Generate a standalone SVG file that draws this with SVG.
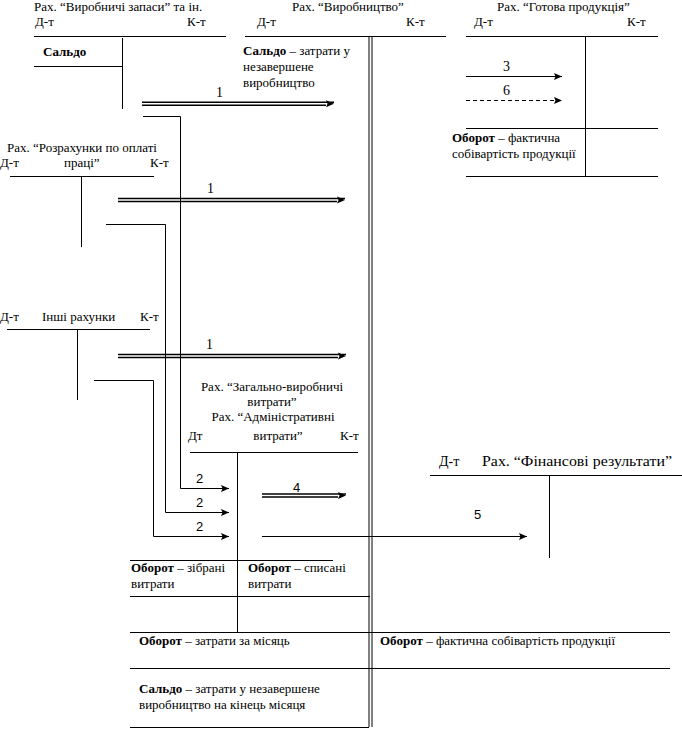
<svg xmlns="http://www.w3.org/2000/svg" width="682" height="729" viewBox="0 0 682 729">
<style>
text{font-family:"Liberation Serif","Times New Roman",serif;font-size:13px;fill:#000}
.b{font-weight:bold}
.n{font-family:"Liberation Serif",serif;font-size:14px}
.s{font-family:"Liberation Sans",Arial,sans-serif;font-size:13px}
.f{font-size:14px}
line,polyline{stroke:#000;stroke-width:1;fill:none}
.dbl{stroke-width:1.4}
.dash{stroke-dasharray:4,3}
</style>
<defs>
<marker id="ah" markerUnits="userSpaceOnUse" markerWidth="10" markerHeight="10" refX="8" refY="0" orient="auto" overflow="visible">
<path d="M0,-3.5 L8,0 L0,3.5 L1.5,0 z" fill="#000"/>
</marker>
<marker id="ah2" markerUnits="userSpaceOnUse" markerWidth="10" markerHeight="10" refX="8" refY="0" orient="auto" overflow="visible">
<path d="M0,-2 L8,1.5 L0,5 L1.5,1.5 z" fill="#000"/>
</marker>
</defs>
<rect width="682" height="729" fill="#fff"/>

<g id="acc-vyrobnychi-zapasy">
<text x="34" y="11">Рах. “Виробничі запаси” та ін.</text>
<text x="35" y="26">Д-т</text>
<text x="187" y="26">К-т</text>
<line x1="34" y1="36.5" x2="226" y2="36.5"/>
<line x1="122.5" y1="38" x2="122.5" y2="109"/>
<line x1="34" y1="66.5" x2="122" y2="66.5"/>
<text class="b" x="43" y="56">Сальдо</text>
</g>

<g id="acc-vyrobnytstvo">
<text x="292" y="11">Рах. “Виробництво”</text>
<text x="257" y="26">Д-т</text>
<text x="406" y="26">К-т</text>
<line x1="245" y1="36.5" x2="446" y2="36.5"/>
<line x1="369" y1="36" x2="369" y2="727"/>
<line x1="372" y1="36" x2="372" y2="727"/>
<text x="243" y="55"><tspan class="b">Сальдо</tspan> – затрати у</text>
<text x="243" y="71">незавершене</text>
<text x="243" y="87">виробництво</text>
<line x1="130" y1="632.5" x2="670" y2="632.5"/>
<line x1="130" y1="668.5" x2="670" y2="668.5"/>
<line x1="130" y1="727.5" x2="369" y2="727.5"/>
<text x="139" y="645"><tspan class="b">Оборот</tspan> – затрати за місяць</text>
<text x="380" y="645"><tspan class="b">Оборот</tspan> – фактична собівартість продукції</text>
<text x="139" y="693"><tspan class="b">Сальдо</tspan> – затрати у незавершене</text>
<text x="139" y="709">виробництво на кінець місяця</text>
</g>

<g id="acc-gotova-produktsiya">
<text x="497" y="11">Рах. “Готова продукція”</text>
<text x="474" y="26">Д-т</text>
<text x="627" y="26">К-т</text>
<line x1="466" y1="36.5" x2="658" y2="36.5"/>
<line x1="585.5" y1="36" x2="585.5" y2="176"/>
<line x1="466" y1="128.5" x2="658" y2="128.5"/>
<line x1="466" y1="176.5" x2="658" y2="176.5"/>
<text x="452" y="142"><tspan class="b">Оборот</tspan> – фактична</text>
<text x="452" y="158">собівартість продукції</text>
</g>

<g id="acc-rozrakhunky">
<text x="7" y="152">Рах. “Розрахунки по оплаті</text>
<text x="0" y="167">Д-т</text>
<text x="64" y="167">праці”</text>
<text x="150" y="167">К-т</text>
<line x1="10" y1="176.5" x2="154" y2="176.5"/>
<line x1="81.5" y1="177" x2="81.5" y2="247"/>
</g>

<g id="acc-inshi">
<text x="0" y="321">Д-т</text>
<text x="42" y="321">Інші рахунки</text>
<text x="140" y="321">К-т</text>
<line x1="7" y1="329.5" x2="150" y2="329.5"/>
<line x1="77.5" y1="330" x2="77.5" y2="400"/>
</g>

<g id="acc-zagalno-vyrobnychi">
<text x="272" y="391" text-anchor="middle">Рах. “Загально-виробничі</text>
<text x="272" y="406" text-anchor="middle">витрати”</text>
<text x="273" y="421" text-anchor="middle">Рах. “Адміністративні</text>
<text x="188" y="440">Дт</text>
<text x="278" y="440" text-anchor="middle">витрати”</text>
<text x="340" y="440">К-т</text>
<line x1="190" y1="452.5" x2="358" y2="452.5"/>
<line x1="237.5" y1="453" x2="237.5" y2="632"/>
<line x1="130" y1="560.5" x2="333" y2="560.5"/>
<line x1="130" y1="596.5" x2="370" y2="596.5"/>
<text x="131" y="572"><tspan class="b">Оборот</tspan> – зібрані</text>
<text x="131" y="588">витрати</text>
<text x="248" y="572"><tspan class="b">Оборот</tspan> – списані</text>
<text x="248" y="588">витрати</text>
</g>

<g id="acc-finansovi-rezultaty">
<text class="f" x="439" y="466">Д-т</text>
<text class="f" x="482" y="466" textLength="190" lengthAdjust="spacingAndGlyphs">Рах. “Фінансові результати”</text>
<line x1="430" y1="475.5" x2="682" y2="475.5"/>
<line x1="549.5" y1="476" x2="549.5" y2="558"/>
</g>

<g id="connectors">
<line class="dbl" x1="142" y1="102.3" x2="334" y2="102.3" marker-end="url(#ah2)"/>
<line class="dbl" x1="142" y1="105.3" x2="326" y2="105.3"/>
<text class="n" x="216" y="97">1</text>

<line class="dbl" x1="118" y1="198.5" x2="345" y2="198.5" marker-end="url(#ah2)"/>
<line class="dbl" x1="118" y1="201.5" x2="337" y2="201.5"/>
<text class="n" x="207" y="193">1</text>

<line class="dbl" x1="118" y1="354.5" x2="346" y2="354.5" marker-end="url(#ah2)"/>
<line class="dbl" x1="118" y1="357.5" x2="338" y2="357.5"/>
<text class="n" x="206" y="349">1</text>

<polyline points="143,116.5 180.5,116.5 180.5,488.5 229,488.5" marker-end="url(#ah)"/>
<polyline points="106,224.5 165.5,224.5 165.5,512.5 229,512.5" marker-end="url(#ah)"/>
<polyline points="94,380.5 153.5,380.5 153.5,536.5 229,536.5" marker-end="url(#ah)"/>
<text class="s" x="196" y="483">2</text>
<text class="s" x="196" y="507">2</text>
<text class="s" x="196" y="531">2</text>

<line class="dbl" x1="262" y1="494" x2="346" y2="494" marker-end="url(#ah2)"/>
<line class="dbl" x1="262" y1="497" x2="338" y2="497"/>
<text class="s" x="293" y="492">4</text>

<line x1="262" y1="536.5" x2="527" y2="536.5" marker-end="url(#ah)"/>
<text class="s" x="474" y="519">5</text>

<line x1="466" y1="76.5" x2="562" y2="76.5" marker-end="url(#ah)"/>
<text class="n" x="503" y="71">3</text>
<line class="dash" x1="466" y1="100.5" x2="562" y2="100.5" marker-end="url(#ah)"/>
<text class="n" x="503" y="95">6</text>
</g>
</svg>
